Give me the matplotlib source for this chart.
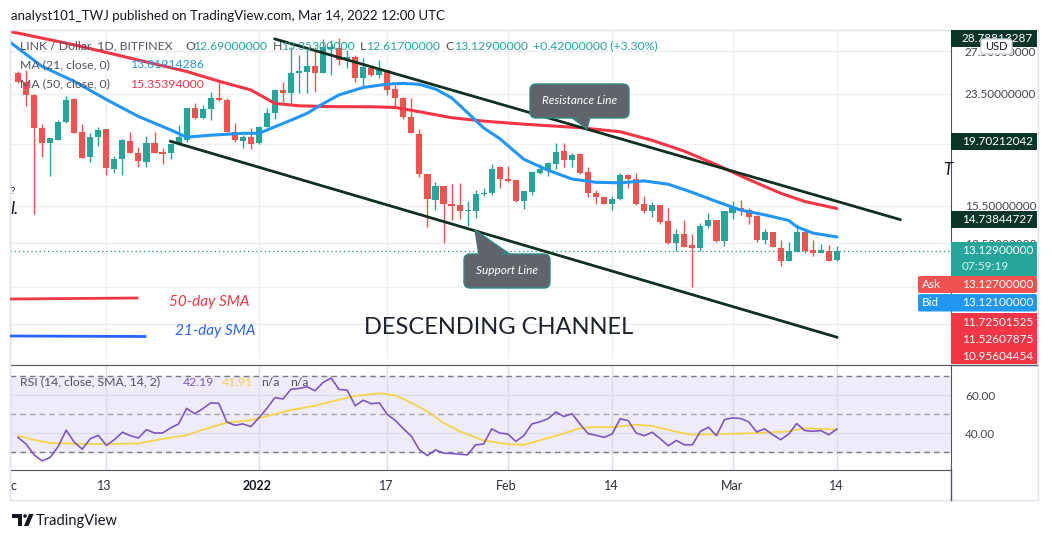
import matplotlib
matplotlib.use("Agg")
import matplotlib.pyplot as plt
import matplotlib.dates as mdates
from matplotlib.patches import FancyBboxPatch, Polygon, Rectangle, Circle
from matplotlib.ticker import FixedLocator, NullLocator, NullFormatter
import numpy as np
import pandas as pd

plt.rcParams['font.family'] = ['Lato', 'DejaVu Sans']

# ---------------- data ----------------
start_date = '2021-12-02'

opens = [25.41, 24.56, 23.40, 20.71, 19.58, 19.82, 21.17, 23.03, 20.36, 18.59,
         20.02, 20.59, 17.81, 18.48, 19.72, 18.83, 18.25, 19.61, 18.90, 18.83,
         19.54, 19.77, 22.26, 21.49, 22.18, 23.09, 23.00, 20.40, 19.72, 19.98,
         19.54, 20.79, 21.90, 23.83, 23.54, 25.36, 25.50, 26.05, 25.41, 27.76,
         27.83, 26.62, 26.96, 24.87, 25.83, 25.19, 25.66, 23.89, 23.09, 21.57,
         20.21, 17.44, 15.87, 16.68, 15.63, 15.53, 15.21, 15.21, 16.21, 16.29,
         17.92, 17.15, 17.04, 15.79, 16.35, 17.52, 17.70, 18.10, 18.99, 18.41,
         18.78, 17.59, 16.25, 16.00, 15.63, 15.93, 17.37, 17.15, 15.63, 15.19,
         15.53, 14.64, 13.50, 13.98, 13.39, 13.26, 14.37, 14.74, 13.60, 15.10,
         15.40, 15.29, 14.93, 13.66, 14.06, 13.28, 12.66, 13.06, 14.06, 13.19,
         13.02, 13.14, 12.69]
highs = [25.60, 25.66, 23.47, 20.97, 19.95, 21.30, 23.29, 23.09, 20.97, 20.29,
         20.79, 20.59, 18.64, 19.90, 20.41, 19.28, 20.08, 20.41, 19.23, 19.58,
         20.92, 22.26, 22.72, 22.53, 23.62, 24.56, 23.09, 21.05, 20.15, 20.66,
         20.84, 22.26, 23.94, 24.56, 27.99, 27.14, 27.99, 27.99, 28.76, 28.68,
         28.87, 27.65, 27.14, 26.80, 25.88, 26.62, 25.66, 24.27, 23.23, 23.09,
         20.59, 17.44, 16.94, 16.68, 16.84, 16.88, 15.79, 16.42, 16.56, 18.14,
         17.96, 17.96, 17.04, 16.40, 17.63, 18.14, 18.25, 19.54, 19.54, 18.87,
         18.87, 17.92, 16.46, 16.00, 16.07, 17.52, 17.44, 17.52, 16.07, 15.73,
         15.53, 15.38, 14.21, 14.69, 13.98, 14.55, 15.10, 14.74, 15.19, 15.79,
         15.87, 15.40, 15.01, 14.21, 14.06, 13.66, 13.58, 14.48, 14.16, 13.66,
         13.47, 13.42, 13.353]
lows = [24.42, 22.45, 15.06, 18.59, 17.32, 19.77, 21.09, 20.29, 18.52, 18.25,
        19.37, 17.37, 17.54, 17.37, 18.87, 17.88, 17.92, 18.87, 18.14, 18.48,
        19.42, 19.65, 21.36, 21.42, 21.30, 22.86, 20.40, 19.65, 19.23, 19.16,
        19.49, 20.74, 21.42, 22.80, 22.53, 23.54, 23.54, 23.68, 25.36, 25.19,
        26.14, 25.86, 24.56, 24.12, 25.12, 24.87, 23.38, 22.26, 21.36, 20.29,
        17.26, 14.33, 15.25, 13.52, 14.69, 14.78, 14.39, 14.84, 16.08, 16.14,
        16.58, 16.93, 15.73, 15.31, 16.14, 17.48, 17.32, 17.77, 17.88, 17.88,
        17.44, 16.00, 15.63, 15.63, 15.29, 15.87, 16.54, 15.53, 15.10, 14.87,
        14.48, 13.47, 13.14, 13.31, 11.46, 13.14, 14.30, 13.55, 13.34, 14.78,
        14.97, 14.52, 13.55, 13.44, 13.31, 12.43, 12.63, 13.06, 13.00, 12.87,
        13.02, 12.63, 12.617]
closes = [24.56, 23.38, 20.71, 19.54, 19.95, 21.17, 23.00, 20.33, 18.52, 19.98,
          20.54, 17.85, 18.48, 19.77, 18.87, 18.31, 19.54, 18.87, 18.78, 19.47,
          20.02, 22.26, 21.49, 22.18, 23.09, 23.00, 20.40, 19.77, 20.02, 19.49,
          20.79, 21.90, 23.83, 23.54, 25.41, 25.60, 26.05, 25.41, 27.99, 27.96,
          26.62, 26.96, 24.87, 25.98, 25.19, 25.66, 23.83, 23.09, 21.57, 20.29,
          17.44, 15.93, 16.68, 15.63, 15.49, 15.21, 15.25, 16.21, 16.29, 17.81,
          17.15, 16.99, 15.79, 16.40, 17.59, 17.81, 18.18, 18.90, 18.41, 18.71,
          17.52, 16.25, 16.00, 15.63, 15.93, 17.37, 17.15, 15.59, 15.19, 15.53,
          14.60, 13.50, 13.98, 13.31, 13.28, 14.37, 14.73, 13.60, 15.19, 15.43,
          15.21, 14.87, 13.66, 14.06, 13.31, 12.66, 13.10, 14.06, 13.14, 13.02,
          13.19, 12.66, 13.129]

ma21_dates = ['2021-12-01', '2021-12-05', '2021-12-09', '2021-12-13', '2021-12-17',
              '2021-12-21', '2021-12-23', '2021-12-26', '2021-12-30', '2022-01-01',
              '2022-01-03', '2022-01-05', '2022-01-07', '2022-01-09', '2022-01-11',
              '2022-01-14', '2022-01-17', '2022-01-19', '2022-01-21', '2022-01-23',
              '2022-01-25', '2022-01-27', '2022-01-29', '2022-01-31', '2022-02-03',
              '2022-02-06', '2022-02-09', '2022-02-12', '2022-02-15', '2022-02-18',
              '2022-02-21', '2022-02-24', '2022-02-27', '2022-03-02', '2022-03-05',
              '2022-03-08', '2022-03-09', '2022-03-11', '2022-03-14']
ma21_vals = [28.45, 26.00, 24.60, 23.00, 21.60, 20.55, 20.00, 20.15, 20.29, 20.29,
             20.79, 21.30, 21.85, 22.65, 23.40, 24.05, 24.35, 24.42, 24.33, 23.91,
             23.15, 21.90, 20.70, 19.90, 18.43, 17.70, 17.13, 16.92, 16.89, 17.01,
             16.80, 16.30, 15.76, 15.27, 15.00, 14.69, 14.35, 14.02, 13.819]

ma50_dates = ['2021-12-01', '2021-12-09', '2021-12-17', '2021-12-23', '2021-12-27',
              '2021-12-31', '2022-01-03', '2022-01-06', '2022-01-10', '2022-01-15',
              '2022-01-18', '2022-01-21', '2022-01-25', '2022-01-29', '2022-02-03',
              '2022-02-10', '2022-02-15', '2022-02-19', '2022-02-23', '2022-02-27',
              '2022-03-03', '2022-03-07', '2022-03-10', '2022-03-14']
ma50_vals = [29.60, 28.17, 26.62, 25.52, 24.62, 23.83, 22.67, 22.47, 22.40, 22.39,
             22.33, 21.98, 21.50, 21.23, 20.99, 20.72, 20.41, 19.77, 18.99, 18.06,
             17.10, 16.25, 15.76, 15.354]

rsi_vals = [37.8, 34.3, 28.6, 25.4, 27.2, 33.0, 41.6, 35.3, 31.6, 37.1,
            38.9, 33.6, 36.6, 40.5, 38.7, 37.5, 41.9, 40.1, 40.1, 42.8,
            44.9, 53.1, 50.3, 52.9, 56.0, 55.8, 46.0, 44.2, 44.9, 43.5,
            48.1, 53.1, 58.8, 58.1, 63.2, 63.6, 64.5, 62.4, 66.8, 69.1,
            63.1, 62.7, 54.5, 57.4, 55.6, 56.0, 49.9, 46.7, 42.4, 38.4,
            31.2, 28.2, 31.2, 29.5, 29.3, 28.9, 28.6, 33.9, 34.3, 42.3,
            40.1, 39.6, 35.7, 38.7, 44.9, 46.0, 47.6, 51.2, 48.8, 50.3,
            44.9, 39.8, 38.9, 37.8, 39.6, 47.6, 46.7, 40.1, 38.7, 40.5,
            37.1, 33.4, 36.2, 33.9, 33.9, 41.0, 43.2, 38.7, 47.2, 48.1,
            47.8, 46.0, 40.7, 42.3, 39.2, 36.6, 39.6, 45.1, 41.4, 41.0,
            41.4, 39.2, 42.19]

rsi_ma_dates = ['2021-12-02', '2021-12-04', '2021-12-06', '2021-12-10', '2021-12-13',
                '2021-12-17', '2021-12-20', '2021-12-23', '2021-12-25', '2021-12-28',
                '2021-12-31', '2022-01-02', '2022-01-05', '2022-01-08', '2022-01-10',
                '2022-01-13', '2022-01-16', '2022-01-18', '2022-01-20', '2022-01-22',
                '2022-01-24', '2022-01-26', '2022-01-29', '2022-02-01', '2022-02-03',
                '2022-02-07', '2022-02-10', '2022-02-12', '2022-02-14', '2022-02-17',
                '2022-02-19', '2022-02-22', '2022-02-24', '2022-02-28', '2022-03-04',
                '2022-03-08', '2022-03-10', '2022-03-14']
rsi_ma_vals = [38.6, 36.5, 34.8, 34.4, 34.3, 34.6, 37.0, 38.9, 41.9, 45.6,
               46.9, 49.0, 52.2, 54.5, 56.7, 59.7, 61.1, 60.0, 56.0, 51.5,
               45.5, 41.0, 36.2, 34.3, 33.9, 38.6, 42.6, 43.3, 43.2, 44.5,
               43.8, 40.8, 39.2, 39.6, 40.1, 41.0, 42.6, 41.91]

# channel lines (start / end of the drawn trend lines)
resistance_dates = ['2022-01-03 00:00', '2022-03-21 21:00']
resistance_vals = [28.78813287, 14.73844727]
support_dates = ['2021-12-21 00:00', '2022-03-14 00:00']
support_vals = [19.70212042, 9.53]

# price scale: labels hidden under the price tags are left blank
price_ticks = [10.0, 11.5, 13.5, 15.5, 19.5, 23.5, 27.5]
price_tick_labels = ['', '', '13.50000000', '15.50000000', '', '23.50000000', '27.50000000']
grid_dates = ['2021-12-01', '2021-12-13', '2022-01-01', '2022-01-17',
              '2022-02-01', '2022-02-14', '2022-03-01', '2022-03-14']
date_labels = ['c', '13', '2022', '17', 'Feb', '14', 'Mar', '14']

UP = '#26a69a'
DOWN = '#ef5350'
GRID = '#eceff4'
AXLINE = '#50535e'
TXT = '#131722'
GRAY = '#50535e'

# ---------------- layout ----------------
W, H = 1052, 539
fig = plt.figure(figsize=(W / 100, H / 100), dpi=100)


def frame(left, top, right, bottom):
    return [left / W, 1 - bottom / H, (right - left) / W, (bottom - top) / H]


def to_num(strings):
    return mdates.date2num(pd.to_datetime(strings, format='mixed'))


ax = fig.add_axes(frame(10, 30, 951, 359))
ax_rsi = fig.add_axes(frame(10, 365, 951, 470))
ax_dt = fig.add_axes(frame(10, 470, 951, 500))
ov = fig.add_axes([0, 0, 1, 1], zorder=10)
ov.set_xlim(0, W)
ov.set_ylim(H, 0)
ov.axis('off')

x0 = mdates.date2num(pd.Timestamp('2021-12-01')) + 0.32
x1 = x0 + 941 / 8.05
for a in (ax, ax_rsi, ax_dt):
    a.set_xlim(x0, x1)

dates = pd.date_range(start_date, periods=len(closes), freq='D')
x = mdates.date2num(dates)
gx = to_num(grid_dates)

# ---------------- price panel ----------------
ax.set_yscale('log')
ax.set_ylim(8.79, 29.76)
ax.yaxis.set_major_locator(FixedLocator(price_ticks))
ax.yaxis.set_minor_locator(NullLocator())
ax.yaxis.set_minor_formatter(NullFormatter())
ax.set_yticklabels(price_tick_labels)
ax.yaxis.tick_right()
ax.tick_params(axis='y', length=0, pad=10, labelsize=8.5, labelcolor='#434651')
ax.set_xticks(gx)
ax.tick_params(axis='x', length=0, labelbottom=False)
ax.grid(True, color=GRID, lw=1)
ax.set_axisbelow(True)
for s in ('top', 'left', 'bottom'):
    ax.spines[s].set_visible(False)
ax.spines['right'].set_color(AXLINE)

o = np.array(opens)
c = np.array(closes)
up = c >= o
colors = np.where(up, UP, DOWN)
ax.vlines(x, lows, highs, colors=colors, lw=1, zorder=3)
body_lo = np.minimum(o, c)
body_h = np.maximum(np.abs(c - o), body_lo * 0.004)
ax.bar(x, body_h, bottom=body_lo, width=0.76, color=colors, lw=0, zorder=4)

ax.axhline(closes[-1], color=UP, lw=1, ls=(0, (1, 2)), zorder=2)

ax.plot(to_num(ma50_dates), ma50_vals, color='#f23645', lw=2.2, zorder=5,
        solid_capstyle='round')
ax.plot(to_num(ma21_dates), ma21_vals, color='#2196f3', lw=2.2, zorder=5,
        solid_capstyle='round')

ax.plot(to_num(resistance_dates), resistance_vals, color='#10301f', lw=2, zorder=6)
ax.plot(to_num(support_dates), support_vals, color='#10301f', lw=2, zorder=6)

# ---------------- RSI panel ----------------
ax_rsi.set_ylim(20.6, 76.0)
ax_rsi.axhspan(30, 70, color='#efebf8', zorder=0)
for lvl, col in ((70, '#787b86'), (50, '#a3a6af'), (30, '#787b86')):
    ax_rsi.axhline(lvl, color=col, lw=1, ls=(0, (4, 3)), zorder=1)
ax_rsi.set_yticks([40, 60])
ax_rsi.set_yticklabels(['40.00', '60.00'])
ax_rsi.yaxis.tick_right()
ax_rsi.tick_params(axis='y', length=0, pad=10, labelsize=8.5, labelcolor='#434651')
ax_rsi.set_xticks(gx)
ax_rsi.tick_params(axis='x', length=0, labelbottom=False)
ax_rsi.grid(True, color='#dcdfea', lw=1)
ax_rsi.set_axisbelow(True)
ax_rsi.spines['left'].set_visible(False)
for s in ('top', 'bottom', 'right'):
    ax_rsi.spines[s].set_color(AXLINE)
ax_rsi.plot(to_num(rsi_ma_dates), rsi_ma_vals, color='#f5d64b', lw=1.3, zorder=3)
ax_rsi.plot(x, rsi_vals, color='#7e57c2', lw=1.2, zorder=4)

# ---------------- date strip ----------------
ax_dt.axis('off')
for d, lab in zip(gx, date_labels):
    # the first label is the tail of "Dec", cut by the left edge of the chart
    xpos = d + 0.75 if lab == 'c' else d
    ax_dt.text(xpos, 0.45, lab, ha='center', va='center', fontsize=9,
               color=TXT if lab == '2022' else '#2a2e39',
               fontweight='bold' if lab == '2022' else 'normal')

# ---------------- overlay: frame, tags, notes ----------------
ov.add_patch(Rectangle((10, 30), 1028, 470, fill=False, ec='#e0e3eb', lw=1, zorder=1))
ov.plot([951, 1037], [365, 365], color=AXLINE, lw=1, zorder=2)
ov.plot([951, 951], [470, 500], color=AXLINE, lw=1, zorder=2)

ov.text(11, 16, 'analyst101_TWJ published on TradingView.com, Mar 14, 2022 12:00 UTC',
        fontsize=9.5, color=TXT, va='center')

row1 = [('LINK / Dollar, 1D, BITFINEX', 20, GRAY), ('O', 185, GRAY),
        ('12.69000000', 193, UP), ('H', 273, GRAY), ('13.35300000', 281, UP),
        ('L', 360, GRAY), ('12.61700000', 366, UP), ('C', 445, GRAY),
        ('13.12900000', 454, UP), ('+0.42000000 (+3.30%)', 533, UP)]
for txt, px, col in row1:
    ov.text(px, 46, txt, fontsize=8.8, color=col, va='center')
ov.text(20, 65, 'MA (21, close, 0)', fontsize=8.8, color=GRAY, va='center')
ov.text(130, 65, '13.81914286', fontsize=8.8, color='#2196f3', va='center')
ov.text(20, 84, 'MA (50, close, 0)', fontsize=8.8, color=GRAY, va='center')
ov.text(130, 84, '15.35394000', fontsize=8.8, color='#f23645', va='center')

ov.text(20, 382, 'RSI (14, close, SMA, 14, 2)', fontsize=8.8, color=GRAY, va='center')
ov.text(183, 382, '42.19', fontsize=8.8, color='#7e57c2', va='center')
ov.text(222, 382, '41.91', fontsize=8.8, color='#f5d64b', va='center')
ov.text(261, 382, 'n/a', fontsize=8.8, color=GRAY, va='center')
ov.text(290, 382, 'n/a', fontsize=8.8, color=GRAY, va='center')

# hand-drawn legend and title inside the chart
ov.plot([11.5, 137], [299, 298], color='#f23645', lw=2, zorder=3)
ov.plot([11.5, 145], [336, 336.5], color='#2962ff', lw=2, zorder=3)
ov.text(169, 302, '50-day SMA', fontsize=11, style='italic', color='#f23645', va='center')
ov.text(175, 331, '21-day SMA', fontsize=11, style='italic', color='#2962ff', va='center')
ov.text(364, 327, 'DESCENDING CHANNEL', fontsize=17, color='#1e222d', va='center')
ov.text(10, 209, 'l.', fontsize=13, style='italic', color=TXT, va='center')
ov.text(11, 192, '?', fontsize=7, color=TXT, va='center')
ov.text(943, 170, 'T', fontsize=12, style='italic', color=TXT, va='center')


def callout(box, base, tip, text):
    l, t, r, b = box
    ov.add_patch(Polygon([base[0], base[1], tip], closed=True, fc='#61636b',
                         ec='#2e8a8a', lw=1, zorder=6))
    ov.add_patch(FancyBboxPatch((l, t), r - l, b - t,
                                boxstyle='round,pad=0,rounding_size=6',
                                fc='#61636b', ec='#2e8a8a', lw=1, zorder=6))
    inner = [(base[0][0] + 1, (base[0][1] + (t + b) / 2) / 2),
             (base[1][0] - 1, (base[1][1] + (t + b) / 2) / 2), tip]
    ov.add_patch(Polygon(inner, closed=True, fc='#61636b', ec='none', zorder=7))
    ov.text((l + r) / 2, (t + b) / 2, text, color='white', style='italic',
            fontsize=8.5, ha='center', va='center', zorder=8)


callout((530, 84, 629, 118), [(571, 117), (590, 117)], (587, 129), 'Resistance Line')
callout((464, 254, 550, 288), [(479, 255), (511, 255)], (475, 230), 'Support Line')


def price_px(val):
    return H - ax.transData.transform((x0, val))[1]


def tag(y, text, fc, h=17, left=951):
    ov.add_patch(Rectangle((left, y - h / 2), 1037 - left, h, fc=fc, ec='none', zorder=5))
    ov.text(962, y, text, color='white', fontsize=8.5, va='center', zorder=6)


dark_tag = '#0b3528'
tag(price_px(28.78813287), '28.78813287', dark_tag)
tag(price_px(19.70212042), '19.70212042', dark_tag)
tag(price_px(14.73844727), '14.73844727', dark_tag)

yc = price_px(closes[-1])
ov.add_patch(Rectangle((951, yc - 9), 86, 34, fc=UP, ec='none', zorder=5))
ov.text(962, yc, '13.12900000', color='white', fontsize=8.5, va='center', zorder=6)
ov.text(962, yc + 16, '07:59:19', color='#d8f2ee', fontsize=8.5, va='center', zorder=6)

ov.add_patch(FancyBboxPatch((918, 276), 119, 17, boxstyle='round,pad=0,rounding_size=2',
                            fc='#ef5350', ec='none', zorder=5))
ov.text(922, 284.5, 'Ask', color='white', fontsize=8.5, va='center', zorder=6)
ov.text(962, 284.5, '13.12700000', color='white', fontsize=8.5, va='center', zorder=6)
ov.add_patch(FancyBboxPatch((918, 294), 119, 17.5, boxstyle='round,pad=0,rounding_size=2',
                            fc='#2196f3', ec='none', zorder=5))
ov.text(922, 302.5, 'Bid', color='white', fontsize=8.5, va='center', zorder=6)
ov.text(962, 302.5, '13.12100000', color='white', fontsize=8.5, va='center', zorder=6)

ov.add_patch(Rectangle((951, 312.5), 86, 51, fc='#f23645', ec='none', zorder=5))
for yy, txt in ((322, '11.72501525'), (339.5, '11.52607875'), (357, '10.95604454')):
    ov.text(962, yy, txt, color='white', fontsize=8.5, va='center', zorder=6)

ov.add_patch(FancyBboxPatch((981, 39), 31, 15, boxstyle='round,pad=0,rounding_size=3',
                            fc='white', ec='#d1d4dc', lw=1, zorder=7))
ov.text(996.5, 46.5, 'USD', color=TXT, fontsize=8, ha='center', va='center', zorder=8)

# TradingView mark
ov.add_patch(Polygon([(12, 514), (22, 514), (22, 526), (18, 526), (18, 518), (12, 518)],
                     fc=TXT, ec='none'))
ov.add_patch(Circle((25, 516), 1.8, fc=TXT, ec='none'))
ov.add_patch(Polygon([(29, 514), (33.5, 514), (28.5, 526), (24, 526)], fc=TXT, ec='none'))
ov.text(36, 520.5, 'TradingView', fontsize=10.5, color=TXT, va='center')

fig.savefig('out.png', dpi=100)
